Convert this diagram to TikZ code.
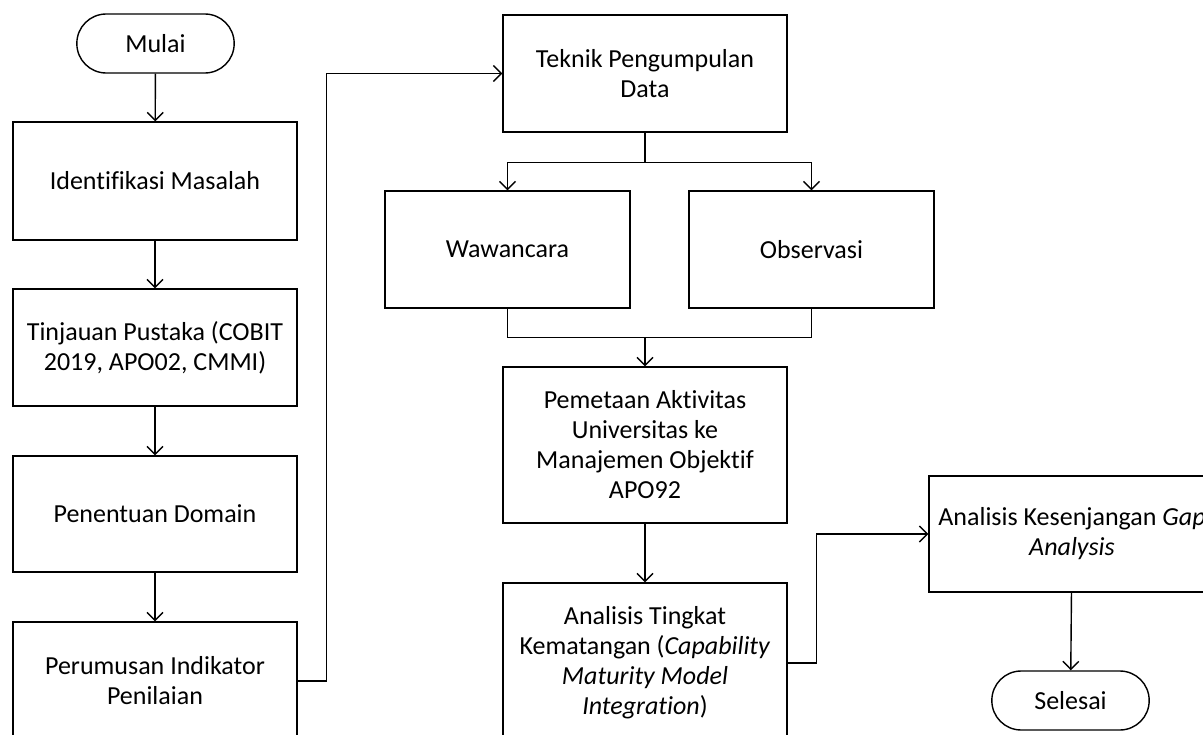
\documentclass[tikz,border=0pt]{standalone}
\usepackage{fontspec}
\setmainfont{Carlito}[Ligatures={NoCommon}]
\usetikzlibrary{arrows.meta,calc}
\begin{document}
\begin{tikzpicture}[x=0.75pt,y=-0.75pt,
  box/.style={draw=black,line width=1.05pt,rectangle,inner sep=0pt,align=center,
    font=\fontsize{19.5}{22.5}\selectfont},
  term/.style={box,rounded corners=22pt,minimum width=118pt,minimum height=44.25pt},
  arr/.style={line width=1.05pt,-{Straight Barb[length=6pt,width=12pt,line width=1.05pt]}},
  ln/.style={line width=1.05pt}]
\useasboundingbox (0,0) rectangle (1203,735);
\clip (0,0) rectangle (1203,735);
% left column
\node[term] (mulai) at (155.5,43.5) {Mulai};
\node[box,minimum width=213pt,minimum height=88.5pt] (ident) at (155,181) {Identifikasi Masalah};
\node[box,minimum width=213pt,minimum height=87.75pt] (tinj) at (155,347.5) {Tinjauan Pustaka (COBIT\\2019, APO02, CMMI)};
\node[box,minimum width=213pt,minimum height=87pt] (penent) at (155,514) {Penentuan Domain};
\node[box,minimum width=213pt,minimum height=88.5pt] (perum) at (155,681) {Perumusan Indikator\\Penilaian};
% middle column
\node[box,minimum width=213pt,minimum height=87.75pt] (teknik) at (645,73.5) {Teknik Pengumpulan\\Data};
\node[box,minimum width=183.75pt,minimum height=87.75pt] (waw) at (507.5,249.5) {Wawancara};
\node[box,minimum width=183.75pt,minimum height=87.75pt] (obs) at (811.5,249.5) {Observasi};
\node[box,minimum width=213pt,minimum height=117pt] (pem) at (645,445) {Pemetaan Aktivitas\\Universitas ke\\Manajemen Objektif\\APO92};
\node[box,minimum width=213pt,minimum height=120pt] (anal) at (645,663) {Analisis Tingkat\\Kematangan (\textit{Capability}\\\textit{Maturity Model}\\\textit{Integration})};
% right column
\node[box,minimum width=214.5pt,minimum height=87pt] (gap) at (1072,534) {Analisis Kesenjangan \textit{Gap}\\\textit{Analysis}};
\node[term] (selesai) at (1070.5,700.5) {Selesai};
% connectors
\draw[arr] (mulai) -- (ident);
\draw[arr] (ident) -- (tinj);
\draw[arr] (tinj) -- (penent);
\draw[arr] (penent) -- (perum);
\draw[arr] (perum.east) -- ++(29,0) |- (teknik.west);
\path (teknik.south) ++(0,30) coordinate (split);
\draw[ln] (teknik.south) -- (split);
\draw[arr] (split) -| (waw.north);
\draw[arr] (split) -| (obs.north);
\path (waw.south) ++(0,29) coordinate (j1);
\coordinate (join) at (j1 -| pem.north);
\draw[ln] (waw.south) -- (j1) -| (obs.south);
\draw[arr] (join) -- (pem.north);
\draw[arr] (pem) -- (anal);
\draw[arr] (anal.east) -- ++(29,0) |- (gap.west);
\draw[arr] (gap) -- (selesai);
\end{tikzpicture}
\end{document}
